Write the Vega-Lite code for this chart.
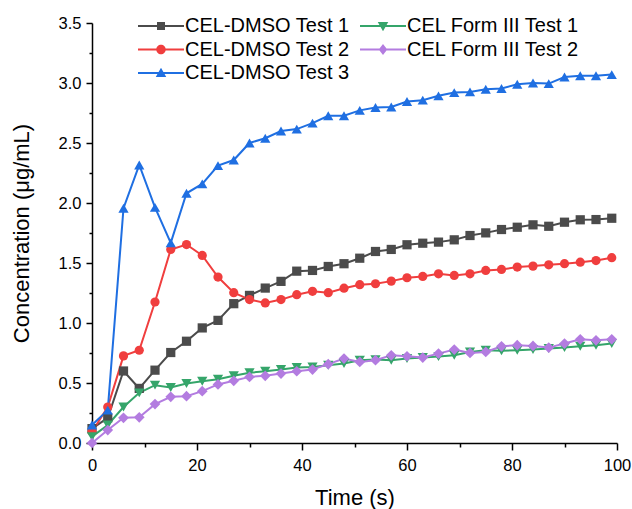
{
  "$schema": "https://vega.github.io/schema/vega-lite/v6.json",
  "width": 525,
  "height": 420,
  "autosize": {"type": "none"},
  "padding": {"left": 92, "top": 23, "right": 15, "bottom": 66},
  "background": "white",
  "config": {
    "view": {"stroke": null},
    "axis": {"labelFont": "Liberation Sans", "titleFont": "Liberation Sans", "labelColor": "black", "titleColor": "black", "domainColor": "black", "tickColor": "black", "domainWidth": 1.5, "tickWidth": 1.5, "grid": false, "labelFontSize": 16.5, "titleFontSize": 22, "titleFontWeight": "normal", "labelOverlap": false, "labelFlush": false},
    "legend": {"orient": "none", "legendX": 42, "legendY": -7, "columns": 2, "columnPadding": 6, "rowPadding": 3.5, "padding": 0, "symbolSize": 100, "symbolStrokeWidth": 0, "symbolOffset": 17, "labelOffset": 14, "labelFont": "Liberation Sans", "labelFontSize": 20, "labelColor": "black", "labelLimit": 0}
  },
  "data": {"values": [
    {"time":0,"series":"CEL-DMSO Test 1","conc":0.12},{"time":3,"series":"CEL-DMSO Test 1","conc":0.21},{"time":6,"series":"CEL-DMSO Test 1","conc":0.6},{"time":9,"series":"CEL-DMSO Test 1","conc":0.455},{"time":12,"series":"CEL-DMSO Test 1","conc":0.607},{"time":15,"series":"CEL-DMSO Test 1","conc":0.754},{"time":18,"series":"CEL-DMSO Test 1","conc":0.848},{"time":21,"series":"CEL-DMSO Test 1","conc":0.959},{"time":24,"series":"CEL-DMSO Test 1","conc":1.022},{"time":27,"series":"CEL-DMSO Test 1","conc":1.161},{"time":30,"series":"CEL-DMSO Test 1","conc":1.23},{"time":33,"series":"CEL-DMSO Test 1","conc":1.291},{"time":36,"series":"CEL-DMSO Test 1","conc":1.347},{"time":39,"series":"CEL-DMSO Test 1","conc":1.432},{"time":42,"series":"CEL-DMSO Test 1","conc":1.438},{"time":45,"series":"CEL-DMSO Test 1","conc":1.471},{"time":48,"series":"CEL-DMSO Test 1","conc":1.494},{"time":51,"series":"CEL-DMSO Test 1","conc":1.54},{"time":54,"series":"CEL-DMSO Test 1","conc":1.596},{"time":57,"series":"CEL-DMSO Test 1","conc":1.613},{"time":60,"series":"CEL-DMSO Test 1","conc":1.652},{"time":63,"series":"CEL-DMSO Test 1","conc":1.665},{"time":66,"series":"CEL-DMSO Test 1","conc":1.674},{"time":69,"series":"CEL-DMSO Test 1","conc":1.693},{"time":72,"series":"CEL-DMSO Test 1","conc":1.729},{"time":75,"series":"CEL-DMSO Test 1","conc":1.751},{"time":78,"series":"CEL-DMSO Test 1","conc":1.779},{"time":81,"series":"CEL-DMSO Test 1","conc":1.798},{"time":84,"series":"CEL-DMSO Test 1","conc":1.818},{"time":87,"series":"CEL-DMSO Test 1","conc":1.806},{"time":90,"series":"CEL-DMSO Test 1","conc":1.84},{"time":93,"series":"CEL-DMSO Test 1","conc":1.86},{"time":96,"series":"CEL-DMSO Test 1","conc":1.862},{"time":99,"series":"CEL-DMSO Test 1","conc":1.873},
    {"time":0,"series":"CEL-DMSO Test 2","conc":0.094},{"time":3,"series":"CEL-DMSO Test 2","conc":0.3},{"time":6,"series":"CEL-DMSO Test 2","conc":0.726},{"time":9,"series":"CEL-DMSO Test 2","conc":0.773},{"time":12,"series":"CEL-DMSO Test 2","conc":1.175},{"time":15,"series":"CEL-DMSO Test 2","conc":1.613},{"time":18,"series":"CEL-DMSO Test 2","conc":1.654},{"time":21,"series":"CEL-DMSO Test 2","conc":1.563},{"time":24,"series":"CEL-DMSO Test 2","conc":1.383},{"time":27,"series":"CEL-DMSO Test 2","conc":1.253},{"time":30,"series":"CEL-DMSO Test 2","conc":1.195},{"time":33,"series":"CEL-DMSO Test 2","conc":1.167},{"time":36,"series":"CEL-DMSO Test 2","conc":1.195},{"time":39,"series":"CEL-DMSO Test 2","conc":1.236},{"time":42,"series":"CEL-DMSO Test 2","conc":1.264},{"time":45,"series":"CEL-DMSO Test 2","conc":1.253},{"time":48,"series":"CEL-DMSO Test 2","conc":1.29},{"time":51,"series":"CEL-DMSO Test 2","conc":1.319},{"time":54,"series":"CEL-DMSO Test 2","conc":1.327},{"time":57,"series":"CEL-DMSO Test 2","conc":1.349},{"time":60,"series":"CEL-DMSO Test 2","conc":1.377},{"time":63,"series":"CEL-DMSO Test 2","conc":1.388},{"time":66,"series":"CEL-DMSO Test 2","conc":1.41},{"time":69,"series":"CEL-DMSO Test 2","conc":1.396},{"time":72,"series":"CEL-DMSO Test 2","conc":1.41},{"time":75,"series":"CEL-DMSO Test 2","conc":1.438},{"time":78,"series":"CEL-DMSO Test 2","conc":1.446},{"time":81,"series":"CEL-DMSO Test 2","conc":1.466},{"time":84,"series":"CEL-DMSO Test 2","conc":1.474},{"time":87,"series":"CEL-DMSO Test 2","conc":1.485},{"time":90,"series":"CEL-DMSO Test 2","conc":1.494},{"time":93,"series":"CEL-DMSO Test 2","conc":1.507},{"time":96,"series":"CEL-DMSO Test 2","conc":1.52},{"time":99,"series":"CEL-DMSO Test 2","conc":1.544},
    {"time":0,"series":"CEL-DMSO Test 3","conc":0.15},{"time":3,"series":"CEL-DMSO Test 3","conc":0.274},{"time":6,"series":"CEL-DMSO Test 3","conc":1.956},{"time":9,"series":"CEL-DMSO Test 3","conc":2.317},{"time":12,"series":"CEL-DMSO Test 3","conc":1.964},{"time":15,"series":"CEL-DMSO Test 3","conc":1.668},{"time":18,"series":"CEL-DMSO Test 3","conc":2.081},{"time":21,"series":"CEL-DMSO Test 3","conc":2.159},{"time":24,"series":"CEL-DMSO Test 3","conc":2.311},{"time":27,"series":"CEL-DMSO Test 3","conc":2.358},{"time":30,"series":"CEL-DMSO Test 3","conc":2.5},{"time":33,"series":"CEL-DMSO Test 3","conc":2.54},{"time":36,"series":"CEL-DMSO Test 3","conc":2.6},{"time":39,"series":"CEL-DMSO Test 3","conc":2.616},{"time":42,"series":"CEL-DMSO Test 3","conc":2.666},{"time":45,"series":"CEL-DMSO Test 3","conc":2.727},{"time":48,"series":"CEL-DMSO Test 3","conc":2.727},{"time":51,"series":"CEL-DMSO Test 3","conc":2.772},{"time":54,"series":"CEL-DMSO Test 3","conc":2.796},{"time":57,"series":"CEL-DMSO Test 3","conc":2.8},{"time":60,"series":"CEL-DMSO Test 3","conc":2.846},{"time":63,"series":"CEL-DMSO Test 3","conc":2.857},{"time":66,"series":"CEL-DMSO Test 3","conc":2.893},{"time":69,"series":"CEL-DMSO Test 3","conc":2.92},{"time":72,"series":"CEL-DMSO Test 3","conc":2.926},{"time":75,"series":"CEL-DMSO Test 3","conc":2.948},{"time":78,"series":"CEL-DMSO Test 3","conc":2.954},{"time":81,"series":"CEL-DMSO Test 3","conc":2.99},{"time":84,"series":"CEL-DMSO Test 3","conc":3.0},{"time":87,"series":"CEL-DMSO Test 3","conc":2.995},{"time":90,"series":"CEL-DMSO Test 3","conc":3.05},{"time":93,"series":"CEL-DMSO Test 3","conc":3.06},{"time":96,"series":"CEL-DMSO Test 3","conc":3.06},{"time":99,"series":"CEL-DMSO Test 3","conc":3.07},
    {"time":0,"series":"CEL Form III Test 1","conc":0.053},{"time":3,"series":"CEL Form III Test 1","conc":0.15},{"time":6,"series":"CEL Form III Test 1","conc":0.3},{"time":9,"series":"CEL Form III Test 1","conc":0.418},{"time":12,"series":"CEL Form III Test 1","conc":0.482},{"time":15,"series":"CEL Form III Test 1","conc":0.463},{"time":18,"series":"CEL Form III Test 1","conc":0.496},{"time":21,"series":"CEL Form III Test 1","conc":0.515},{"time":24,"series":"CEL Form III Test 1","conc":0.532},{"time":27,"series":"CEL Form III Test 1","conc":0.56},{"time":30,"series":"CEL Form III Test 1","conc":0.585},{"time":33,"series":"CEL Form III Test 1","conc":0.598},{"time":36,"series":"CEL Form III Test 1","conc":0.612},{"time":39,"series":"CEL Form III Test 1","conc":0.629},{"time":42,"series":"CEL Form III Test 1","conc":0.634},{"time":45,"series":"CEL Form III Test 1","conc":0.648},{"time":48,"series":"CEL Form III Test 1","conc":0.662},{"time":51,"series":"CEL Form III Test 1","conc":0.69},{"time":54,"series":"CEL Form III Test 1","conc":0.695},{"time":57,"series":"CEL Form III Test 1","conc":0.69},{"time":60,"series":"CEL Form III Test 1","conc":0.704},{"time":63,"series":"CEL Form III Test 1","conc":0.712},{"time":66,"series":"CEL Form III Test 1","conc":0.72},{"time":69,"series":"CEL Form III Test 1","conc":0.731},{"time":72,"series":"CEL Form III Test 1","conc":0.759},{"time":75,"series":"CEL Form III Test 1","conc":0.773},{"time":78,"series":"CEL Form III Test 1","conc":0.768},{"time":81,"series":"CEL Form III Test 1","conc":0.773},{"time":84,"series":"CEL Form III Test 1","conc":0.779},{"time":87,"series":"CEL Form III Test 1","conc":0.787},{"time":90,"series":"CEL Form III Test 1","conc":0.795},{"time":93,"series":"CEL Form III Test 1","conc":0.806},{"time":96,"series":"CEL Form III Test 1","conc":0.815},{"time":99,"series":"CEL Form III Test 1","conc":0.829},
    {"time":0,"series":"CEL Form III Test 2","conc":0.0},{"time":3,"series":"CEL Form III Test 2","conc":0.108},{"time":6,"series":"CEL Form III Test 2","conc":0.21},{"time":9,"series":"CEL Form III Test 2","conc":0.214},{"time":12,"series":"CEL Form III Test 2","conc":0.324},{"time":15,"series":"CEL Form III Test 2","conc":0.385},{"time":18,"series":"CEL Form III Test 2","conc":0.39},{"time":21,"series":"CEL Form III Test 2","conc":0.432},{"time":24,"series":"CEL Form III Test 2","conc":0.488},{"time":27,"series":"CEL Form III Test 2","conc":0.518},{"time":30,"series":"CEL Form III Test 2","conc":0.551},{"time":33,"series":"CEL Form III Test 2","conc":0.56},{"time":36,"series":"CEL Form III Test 2","conc":0.579},{"time":39,"series":"CEL Form III Test 2","conc":0.598},{"time":42,"series":"CEL Form III Test 2","conc":0.612},{"time":45,"series":"CEL Form III Test 2","conc":0.657},{"time":48,"series":"CEL Form III Test 2","conc":0.704},{"time":51,"series":"CEL Form III Test 2","conc":0.676},{"time":54,"series":"CEL Form III Test 2","conc":0.69},{"time":57,"series":"CEL Form III Test 2","conc":0.731},{"time":60,"series":"CEL Form III Test 2","conc":0.723},{"time":63,"series":"CEL Form III Test 2","conc":0.712},{"time":66,"series":"CEL Form III Test 2","conc":0.745},{"time":69,"series":"CEL Form III Test 2","conc":0.779},{"time":72,"series":"CEL Form III Test 2","conc":0.751},{"time":75,"series":"CEL Form III Test 2","conc":0.759},{"time":78,"series":"CEL Form III Test 2","conc":0.806},{"time":81,"series":"CEL Form III Test 2","conc":0.815},{"time":84,"series":"CEL Form III Test 2","conc":0.809},{"time":87,"series":"CEL Form III Test 2","conc":0.795},{"time":90,"series":"CEL Form III Test 2","conc":0.829},{"time":93,"series":"CEL Form III Test 2","conc":0.864},{"time":96,"series":"CEL Form III Test 2","conc":0.856},{"time":99,"series":"CEL Form III Test 2","conc":0.864}
  ]},
  "encoding": {
    "x": {"field": "time", "type": "quantitative", "title": "Time (s)",
      "scale": {"domain": [0, 100], "nice": false, "zero": false},
      "axis": {"values": [0,10,20,30,40,50,60,70,80,90,100], "labelExpr": "datum.value % 20 === 0 ? datum.label : ''", "tickSize": {"condition": {"test": "datum.value % 20 === 0", "value": 7}, "value": 4}, "labelPadding": 7, "titlePadding": 14}},
    "y": {"field": "conc", "type": "quantitative", "title": "Concentration (μg/mL)",
      "scale": {"domain": [0, 3.5], "nice": false, "zero": false},
      "axis": {"values": [0,0.25,0.5,0.75,1,1.25,1.5,1.75,2,2.25,2.5,2.75,3,3.25,3.5], "labelExpr": "datum.value % 0.5 === 0 ? format(datum.value, '.1f') : ''", "tickSize": {"condition": {"test": "datum.value % 0.5 === 0", "value": 6}, "value": 3}, "labelPadding": 5, "titlePadding": 25}},
    "color": {"field": "series", "type": "nominal",
      "scale": {"domain": ["CEL-DMSO Test 1", "CEL-DMSO Test 2", "CEL-DMSO Test 3", "CEL Form III Test 1", "CEL Form III Test 2"], "range": ["#4b4b4b", "#f03e3e", "#1f6fe2", "#35a56a", "#b37ce0"]},
      "legend": {"title": null,
        "encode": {"symbols": {"update": {
          "shape": {"signal": "datum.value === 'CEL-DMSO Test 1' ? 'M-4.6,-0.2H4.6V0.2H-4.6ZM-0.8,-0.8H0.8V0.8H-0.8Z' : datum.value === 'CEL-DMSO Test 2' ? 'M-4.6,-0.2H4.6V0.2H-4.6ZM-0.95,0A0.95,0.95 0 1,1 0.95,0A0.95,0.95 0 1,1 -0.95,0Z' : datum.value === 'CEL-DMSO Test 3' ? 'M-4.6,-0.2H4.6V0.2H-4.6ZM0,-1.05L1.05,0.8H-1.05Z' : datum.value === 'CEL Form III Test 1' ? 'M-4.6,-0.2H4.6V0.2H-4.6ZM0,1.05L-1.05,-0.8H1.05Z' : 'M-4.6,-0.2H4.6V0.2H-4.6ZM0,-1.1L0.85,0L0,1.1L-0.85,0Z'"},
          "fill": {"scale": "color", "field": "value"},
          "strokeWidth": {"value": 0},
          "opacity": {"value": 1}
        }}}}
    }
  },
  "layer": [
    {"mark": {"type": "line", "strokeWidth": 2}},
    {"transform": [{"filter": "datum.series === 'CEL-DMSO Test 1'"}], "mark": {"type": "point", "shape": "square", "filled": true, "opacity": 1, "size": 85}},
    {"transform": [{"filter": "datum.series === 'CEL-DMSO Test 2'"}], "mark": {"type": "point", "shape": "circle", "filled": true, "opacity": 1, "size": 85}},
    {"transform": [{"filter": "datum.series === 'CEL-DMSO Test 3'"}], "mark": {"type": "point", "shape": "triangle-up", "filled": true, "opacity": 1, "size": 105}},
    {"transform": [{"filter": "datum.series === 'CEL Form III Test 1'"}], "mark": {"type": "point", "shape": "triangle-down", "filled": true, "opacity": 1, "size": 105}},
    {"transform": [{"filter": "datum.series === 'CEL Form III Test 2'"}], "mark": {"type": "point", "shape": "diamond", "filled": true, "opacity": 1, "size": 115}}
  ]
}
